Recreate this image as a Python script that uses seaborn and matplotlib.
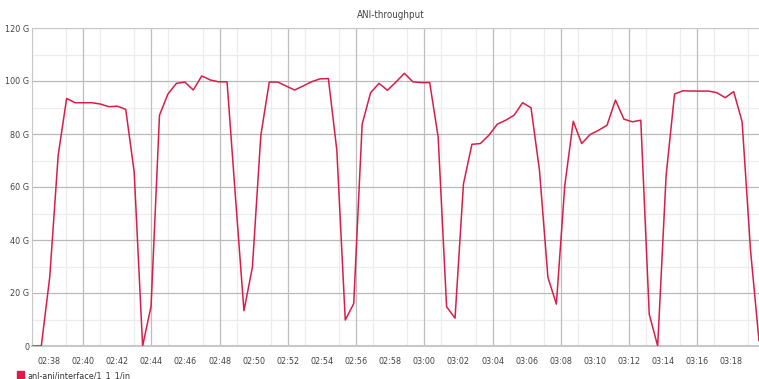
# ANI throughput chart
import numpy as np
import pandas as pd
import matplotlib
matplotlib.use("Agg")
import matplotlib.pyplot as plt
import matplotlib.dates as mdates
from matplotlib.patches import Patch
from matplotlib.ticker import MultipleLocator, FuncFormatter
import seaborn as sns

title = "ANI-throughput"
series_name = "anl-ani/interface/1_1_1/in"
t_start = "2019-01-01 02:37:03"
step_s = 29.7   # sample interval
x_left = "2019-01-01 02:37:00"

# Gbit/s
throughput = [
    0, 0, 26, 72, 93.4, 91.8, 91.8, 91.8, 91.3, 90.3, 90.5, 89.3, 65.7, 0, 15,
    87.1, 95.1, 99.1, 99.6, 96.6, 101.9, 100.4, 99.7, 99.7, 56, 13.3, 29.7, 79.5,
    99.6, 99.6, 98.1, 96.6, 98.1, 99.7, 100.8, 100.9, 73.9, 9.8, 16, 83.7, 95.6,
    99.1, 96.5, 99.6, 102.9, 99.7, 99.4, 99.4, 78.9, 14.8, 10.5, 61.2, 76.1, 76.4,
    79.5, 83.7, 85.2, 87.1, 91.8, 89.9, 66.3, 25.9, 15.8, 60.6, 84.8, 76.4, 79.8,
    81.4, 83.3, 92.8, 85.6, 84.6, 85.2, 12, 0, 64.4, 95.1, 96.3, 96.2, 96.2, 96.2,
    95.6, 93.7, 96, 84.6, 36, 2,
]
y_ticks = [0, 20, 40, 60, 80, 100, 120]

line_color = "#d81e48"

times = pd.Timestamp(t_start) + pd.to_timedelta(np.arange(len(throughput)) * step_s, unit="s")
df = pd.DataFrame({"time": times, "value": throughput})

sns.set_style("white")
plt.rcParams["font.family"] = ["DejaVu Sans"]
plt.rcParams["font.stretch"] = "condensed"

fig = plt.figure(figsize=(7.59, 3.79), dpi=100)
ax = fig.add_axes([32 / 759, 1 - 346 / 379, 1 - 32 / 759, (346 - 28) / 379])

sns.lineplot(data=df, x="time", y="value", ax=ax, color=line_color, linewidth=1.1, zorder=5)

ax.set_ylim(0, 120)
ax.set_xlim(pd.Timestamp(x_left), times[-1])
ax.set_yticks(y_ticks)
ax.yaxis.set_major_formatter(FuncFormatter(lambda v, p: "0" if v == 0 else f"{int(v)} G"))
ax.yaxis.set_minor_locator(MultipleLocator(10))

ax.xaxis.set_major_locator(mdates.MinuteLocator(byminute=range(0, 60, 2)))
ax.xaxis.set_major_formatter(mdates.DateFormatter("%H:%M"))
ax.xaxis.set_minor_locator(mdates.MinuteLocator())

ax.grid(False)
ax.grid(True, axis="y", which="major", color="#b9b9b9", linewidth=0.9)
ax.grid(True, axis="y", which="minor", color="#ececec", linewidth=0.9)
ax.grid(True, axis="x", which="minor", color="#ececec", linewidth=0.9)
for t in pd.date_range("2019-01-01 02:40", "2019-01-01 03:16", freq="4min"):
    ax.axvline(t, color="#bdbdbd", linewidth=0.9, zorder=1)

ax.tick_params(axis="both", which="both", length=0, labelsize=6.5, colors="#444444")
ax.tick_params(axis="x", pad=8)
ax.tick_params(axis="y", pad=2)
ax.set_xlabel("")
ax.set_ylabel("")
for side in ["top", "left", "bottom"]:
    ax.spines[side].set_color("#c8c8c8")
ax.spines["bottom"].set_linewidth(1.5)
ax.spines["right"].set_visible(False)

fig.text(0.515, 1 - 15 / 379, title, ha="center", va="center", fontsize=7, color="#444444")

fig.legend(handles=[Patch(color=line_color, label=series_name)], loc="lower left",
           bbox_to_anchor=(0.012, -0.025), frameon=False, fontsize=6.5,
           handlelength=0.8, handleheight=1.0, handletextpad=0.3, labelcolor="#333333")

fig.savefig("out.png", dpi=100)
